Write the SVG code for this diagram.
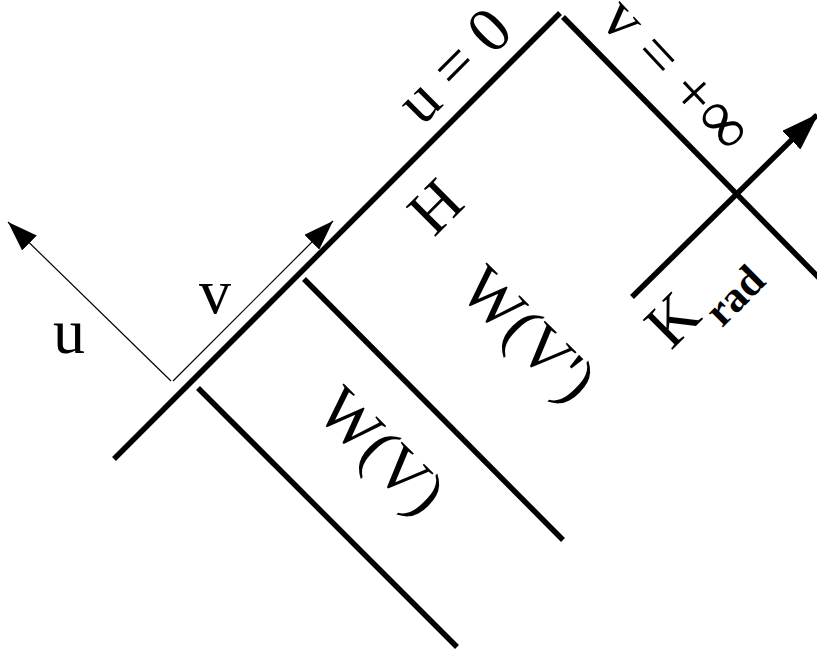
<svg xmlns="http://www.w3.org/2000/svg" width="817" height="650" viewBox="0 0 817 650">
<style>
.thick{stroke:#000;stroke-width:5.5;fill:none}
.thin{stroke:#000;stroke-width:1.2;fill:none}
.lbl{font-family:"Liberation Serif","Times New Roman",serif;font-size:64px;fill:#000}
.sub{font-family:"Liberation Serif","Times New Roman",serif;font-size:43px;font-weight:bold;fill:#000}
</style>
<defs>
<marker id="ah" viewBox="0 0 30 21" refX="30" refY="10.5" markerWidth="30" markerHeight="21" markerUnits="userSpaceOnUse" orient="auto">
<path d="M0,0 L30,10.5 L0,21 Z" fill="#000"/>
</marker>
<marker id="ahk" viewBox="0 0 38 26" refX="36" refY="13" markerWidth="38" markerHeight="26" markerUnits="userSpaceOnUse" orient="auto">
<path d="M0,0 L38,13 L0,26 Z" fill="#000"/>
</marker>
</defs>
<g id="connectors">
<line id="horizon" class="thick" x1="114" y1="459" x2="560" y2="13"/>
<line id="v-infinity" class="thick" x1="563" y1="17" x2="823" y2="282"/>
<line id="wv-edge" class="thick" x1="198" y1="388" x2="457" y2="647"/>
<line id="wvp-edge" class="thick" x1="304" y1="279" x2="563" y2="540"/>
<line id="krad-arrow" class="thick" x1="632" y1="297" x2="817" y2="115" marker-end="url(#ahk)"/>
<line id="u-axis" class="thin" x1="171" y1="381" x2="8" y2="222" marker-end="url(#ah)"/>
<line id="v-axis" class="thin" x1="173" y1="381" x2="333" y2="221" marker-end="url(#ah)"/>
</g>
<g id="label-u"><text class="lbl" x="53" y="353">u</text></g>
<g id="label-v"><text class="lbl" x="199" y="313">v</text></g>
<g id="label-u0"><text class="lbl" transform="translate(422,127) rotate(-45)">u = 0</text></g>
<g id="label-vinf"><text class="lbl" transform="translate(598,21) rotate(47)">v = +<tspan font-size="70">∞</tspan></text></g>
<g id="label-H"><text class="lbl" transform="translate(434,238) rotate(-45)">H</text></g>
<g id="label-WVp"><text class="lbl" transform="translate(457,292) rotate(45)">W(V')</text></g>
<g id="label-WV"><text class="lbl" transform="translate(314,413) rotate(45)">W(V)</text></g>
<g id="label-Krad"><text transform="translate(671,351) rotate(-45)"><tspan class="lbl" x="0" y="0">K</tspan><tspan class="sub" x="52" y="20">rad</tspan></text></g>
</svg>
